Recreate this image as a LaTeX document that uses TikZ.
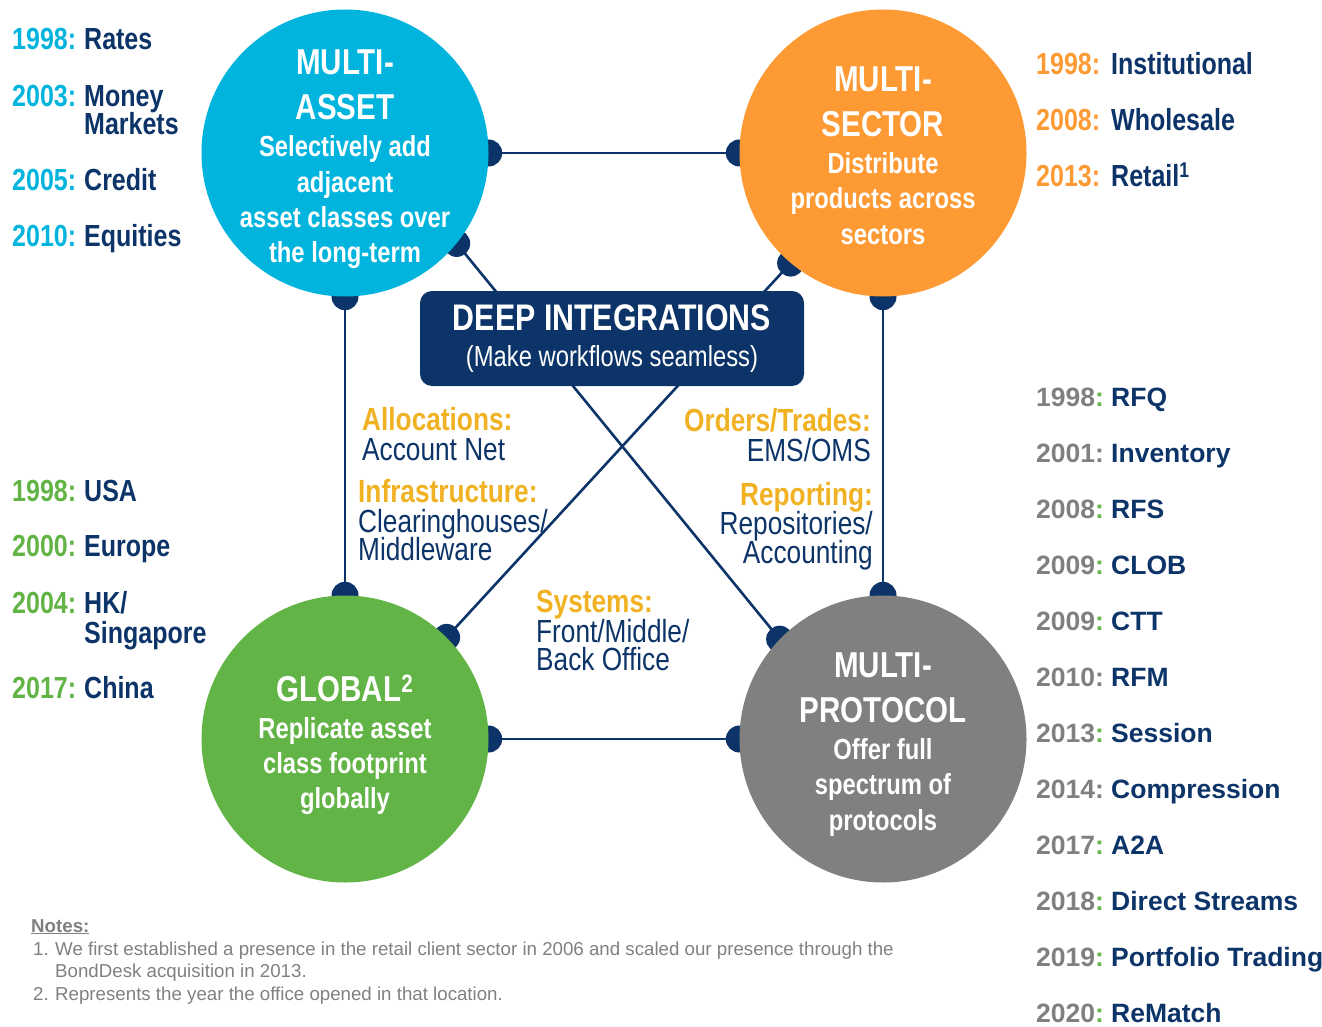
\documentclass[tikz,border=0pt]{standalone}
\usepackage{fontspec}
\setmainfont{Liberation Sans}[FakeStretch=0.82]
\newfontfamily\widefont{Liberation Sans}
\usetikzlibrary{positioning}
\usetikzlibrary{backgrounds}

\definecolor{navy}{RGB}{12,52,104}
\definecolor{assetblue}{RGB}{0,180,221}
\definecolor{sectororange}{RGB}{254,154,52}
\definecolor{globalgreen}{RGB}{98,180,70}
\definecolor{protogray}{RGB}{128,128,128}
\definecolor{gold}{RGB}{240,178,35}

\newcommand\fsz[2]{\fontsize{#1}{#2}\selectfont}
\newcommand\hubtitle[1]{{\fsz{36}{36}#1}}

\tikzset{
  hub/.style={circle, minimum size=287pt, inner sep=0pt},
  hubtext/.style={anchor=north, inner sep=0pt, align=center, text=white,
    font=\bfseries\fsz{29}{35.3}},
  link/.style={draw=navy, line width=2.6pt},
  deep/.style={fill=navy, rounded corners=12pt, minimum width=384pt,
    minimum height=95pt, inner sep=0pt, align=center, text=white,
    font=\bfseries\fsz{37}{36.5}},
  topic/.style={inner sep=0pt, text=gold, font=\bfseries\fsz{32}{32}},
  detail/.style={inner sep=0pt, text=navy, font=\fsz{32}{32}},
  year/.style={anchor=base west, inner sep=0pt, font=\bfseries\fsz{30.5}{30.5}},
  item/.style={anchor=base west, inner sep=0pt, text=navy, font=\bfseries\fsz{30.5}{30.5}},
  pyear/.style={anchor=base west, inner sep=0pt, text=protogray, font=\widefont\bfseries\fsz{26.5}{26.5}},
  pitem/.style={anchor=base west, inner sep=0pt, text=navy, font=\widefont\bfseries\fsz{26.5}{26.5}},
  note/.style={anchor=base west, inner sep=0pt, text=protogray, font=\widefont\fsz{18.7}{18.7}}
}

\begin{document}
\begin{tikzpicture}[x=1pt, y=-1pt]
  \useasboundingbox (0,0) rectangle (1322,1027);

  % the four hubs
  \node[hub, fill=assetblue] (asset) at (345,153) {};
  \node[hub, fill=sectororange] (sector) at (883,153) {};
  \node[hub, fill=globalgreen] (global) at (345,739) {};
  \node[hub, fill=protogray] (proto) at (883,739) {};

  \node[hubtext] (asset-txt) at (345,50) {\hubtitle{MULTI-}\\[9.7pt]\hubtitle{ASSET}\\[1.7pt]
    Selectively add\\adjacent\\asset classes over\\the long-term};
  \node[hubtext] (sector-txt) at (883,66.5) {\hubtitle{MULTI-}\\[9.7pt]\hubtitle{SECTOR}\\[1.7pt]
    Distribute\\products across\\sectors};
  \node[hubtext] (global-txt) at (345,674.5) {\hubtitle{GLOBAL\textsuperscript{2}}\\[1.7pt]
    Replicate asset\\class footprint\\globally};
  \node[hubtext] (proto-txt) at (883,652.5) {\hubtitle{MULTI-}\\[9.7pt]\hubtitle{PROTOCOL}\\[1.7pt]
    Offer full\\spectrum of\\protocols};

  % centre box
  \node[deep] (deep) at (612,338.5) {DEEP INTEGRATIONS\\{\mdseries\fsz{29}{29}(Make workflows seamless)}};

  % links behind the hubs
  \begin{scope}[on background layer]
    \draw[link] (asset.east) -- (sector.west);
    \draw[link] (global.east) -- (proto.west);
    \draw[link] (asset.south) -- (global.north);
    \draw[link] (sector.south) -- (proto.north);
    \draw[link] (asset.-39) -- (proto.136);
    \draw[link] (sector.230) -- (global.45);
    \foreach \p in {asset.east, asset.south, asset.-39, sector.west, sector.south, sector.230,
                    global.north, global.east, global.45, proto.north, proto.west, proto.136}{
      \fill[navy] (\p) circle (13.5pt);
    }
  \end{scope}

  % integration labels
  \node[topic, anchor=base west] (alloc) at (362,430.5) {Allocations:};
  \node[detail, anchor=base west] (alloc-d) at (362,460.5) {Account Net};
  \node[topic, anchor=base west] (infra) at (358,502.5) {Infrastructure:};
  \node[detail, anchor=base west] (infra-d1) at (358,532.5) {Clearinghouses/};
  \node[detail, anchor=base west] (infra-d2) at (358,560.5) {Middleware};
  \node[topic, anchor=base east] (orders) at (871,431.5) {Orders/Trades:};
  \node[detail, anchor=base east] (orders-d) at (871,461.5) {EMS/OMS};
  \node[topic, anchor=base east] (report) at (873,505.5) {Reporting:};
  \node[detail, anchor=base east] (report-d1) at (873,534.5) {Repositories/};
  \node[detail, anchor=base east] (report-d2) at (873,563.5) {Accounting};
  \node[topic, anchor=base west] (sys) at (536,612.5) {Systems:};
  \node[detail, anchor=base west] (sys-d1) at (536,642.5) {Front/Middle/};
  \node[detail, anchor=base west] (sys-d2) at (536,670.5) {Back Office};

  % asset classes
  \foreach \yr/\what/\y [count=\i] in {1998/Rates/50, 2003/Money/106.5, 2005/Credit/190.5, 2010/Equities/246.5}{
    \node[year, text=assetblue] (ay\i) at (12,\y) {\yr:};
    \node[item] (ai\i) at (84,\y) {\what};
  }
  \node[item] (ai5) at (84,135) {Markets};

  % sectors
  \foreach \yr/\what/\y [count=\i] in {1998/Institutional/75, 2008/Wholesale/131, 2013/Retail\textsuperscript{1}/187}{
    \node[year, text=sectororange] (sy\i) at (1036,\y) {\yr:};
    \node[item] (si\i) at (1111,\y) {\what};
  }

  % offices
  \foreach \yr/\what/\y [count=\i] in {1998/USA/501, 2000/Europe/556.5, 2004/{HK/}/613, 2017/China/698}{
    \node[year, text=globalgreen] (gy\i) at (12,\y) {\yr:};
    \node[item] (gi\i) at (84,\y) {\what};
  }
  \node[item] (gi5) at (84,643.5) {Singapore};

  % protocols
  \foreach \yr/\what/\cc [count=\i] in {1998/RFQ/globalgreen, 2001/Inventory/protogray,
      2008/RFS/globalgreen, 2009/CLOB/globalgreen, 2009/CTT/globalgreen, 2010/RFM/protogray,
      2013/Session/globalgreen, 2014/Compression/protogray, 2017/A2A/globalgreen,
      2018/Direct Streams/globalgreen, 2019/Portfolio Trading/globalgreen, 2020/ReMatch/globalgreen}{
    \node[pyear] (py\i) at (1036,{350.5+56*\i}) {\yr\textcolor{\cc}{:}};
    \node[pitem] (pi\i) at (1111,{350.5+56*\i}) {\what};
  }

  % notes
  \node[note, font=\widefont\bfseries\fsz{18.7}{18.7}] (notes) at (31,932) {\underline{Notes:}};
  \node[note] (n1) at (33,955) {1.};
  \node[note] (n1a) at (55,955) {We first established a presence in the retail client sector in 2006 and scaled our presence through the};
  \node[note] (n1b) at (55,977) {BondDesk acquisition in 2013.};
  \node[note] (n2) at (33,1000) {2.};
  \node[note] (n2a) at (55,1000) {Represents the year the office opened in that location.};
\end{tikzpicture}
\end{document}
